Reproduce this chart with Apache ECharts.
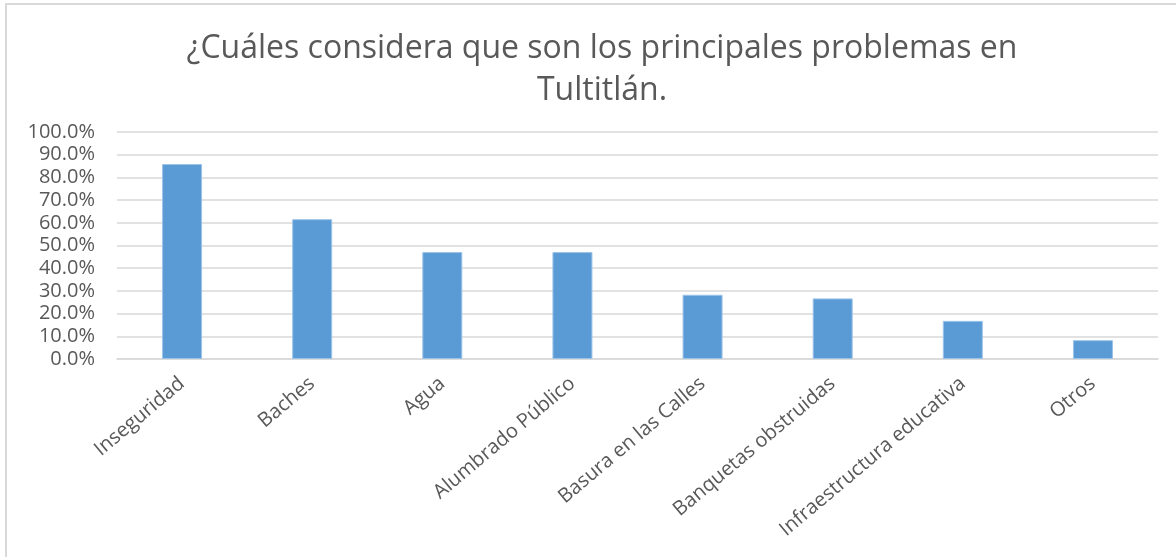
<!DOCTYPE html>
<html lang="es">
<head>
    <meta charset="UTF-8">
    <title>Problemas en Tultitlán</title>
    <style>
        html, body {
            margin: 0;
            padding: 0;
            background: #fff;
        }
        #frame {
            position: absolute;
            left: 5px;
            top: 3px;
            width: 1171px;
            height: 554px;
            border-left: 2px solid #d9d9d9;
            border-top: 2px solid #d9d9d9;
        }
        #main {
            position: absolute;
            left: 0;
            top: 0;
            width: 1176px;
            height: 557px;
        }
    </style>
    <script src="https://cdn.jsdelivr.net/npm/echarts@6/dist/echarts.min.js"></script>
</head>
<body>
<div id="frame"></div>
<div id="main"></div>
<script>
    var categories = ['Inseguridad', 'Baches', 'Agua', 'Alumbrado Público', 'Basura en las Calles',
        'Banquetas obstruidas', 'Infraestructura educativa', 'Otros'];
    // porcentajes
    var values = [85.9, 61.6, 47.1, 47.1, 28.3, 26.7, 16.8, 8.3];
    var titleText = '¿Cuáles considera que son los principales problemas en\nTultitlán.';

    var chartDom = document.getElementById('main');
    var myChart = echarts.init(chartDom);
    var option;

    option = {
        animation: false,
        title: {
            text: titleText,
            left: 597,
            textAlign: 'center',
            top: 23,
            textStyle: {
                fontFamily: 'Open Sans',
                fontSize: 32,
                fontWeight: 'normal',
                color: '#595959',
                lineHeight: 42
            }
        },
        grid: {
            left: 117,
            right: 18,
            top: 132,
            bottom: 198
        },
        xAxis: {
            type: 'category',
            data: categories,
            axisLine: {
                lineStyle: {color: '#d9d9d9', width: 1.5}
            },
            axisTick: {show: false},
            axisLabel: {
                rotate: 40,
                interval: 0,
                margin: 22,
                fontFamily: 'Open Sans',
                fontSize: 20,
                color: '#595959'
            }
        },
        yAxis: {
            type: 'value',
            min: 0,
            max: 100,
            interval: 10,
            axisLine: {show: false},
            axisTick: {show: false},
            axisLabel: {
                margin: 22,
                fontFamily: 'Open Sans',
                fontSize: 20,
                color: '#595959',
                formatter: function (v) {
                    return v.toFixed(1) + '%';
                }
            },
            splitLine: {
                lineStyle: {color: '#d9d9d9', width: 1.5}
            }
        },
        series: [
            {
                type: 'bar',
                data: values,
                barWidth: 40,
                itemStyle: {
                    color: '#5b9bd5',
                    borderColor: '#9cc3e8',
                    borderWidth: 1
                }
            }
        ]
    };

    option && myChart.setOption(option);
</script>
</body>
</html>
